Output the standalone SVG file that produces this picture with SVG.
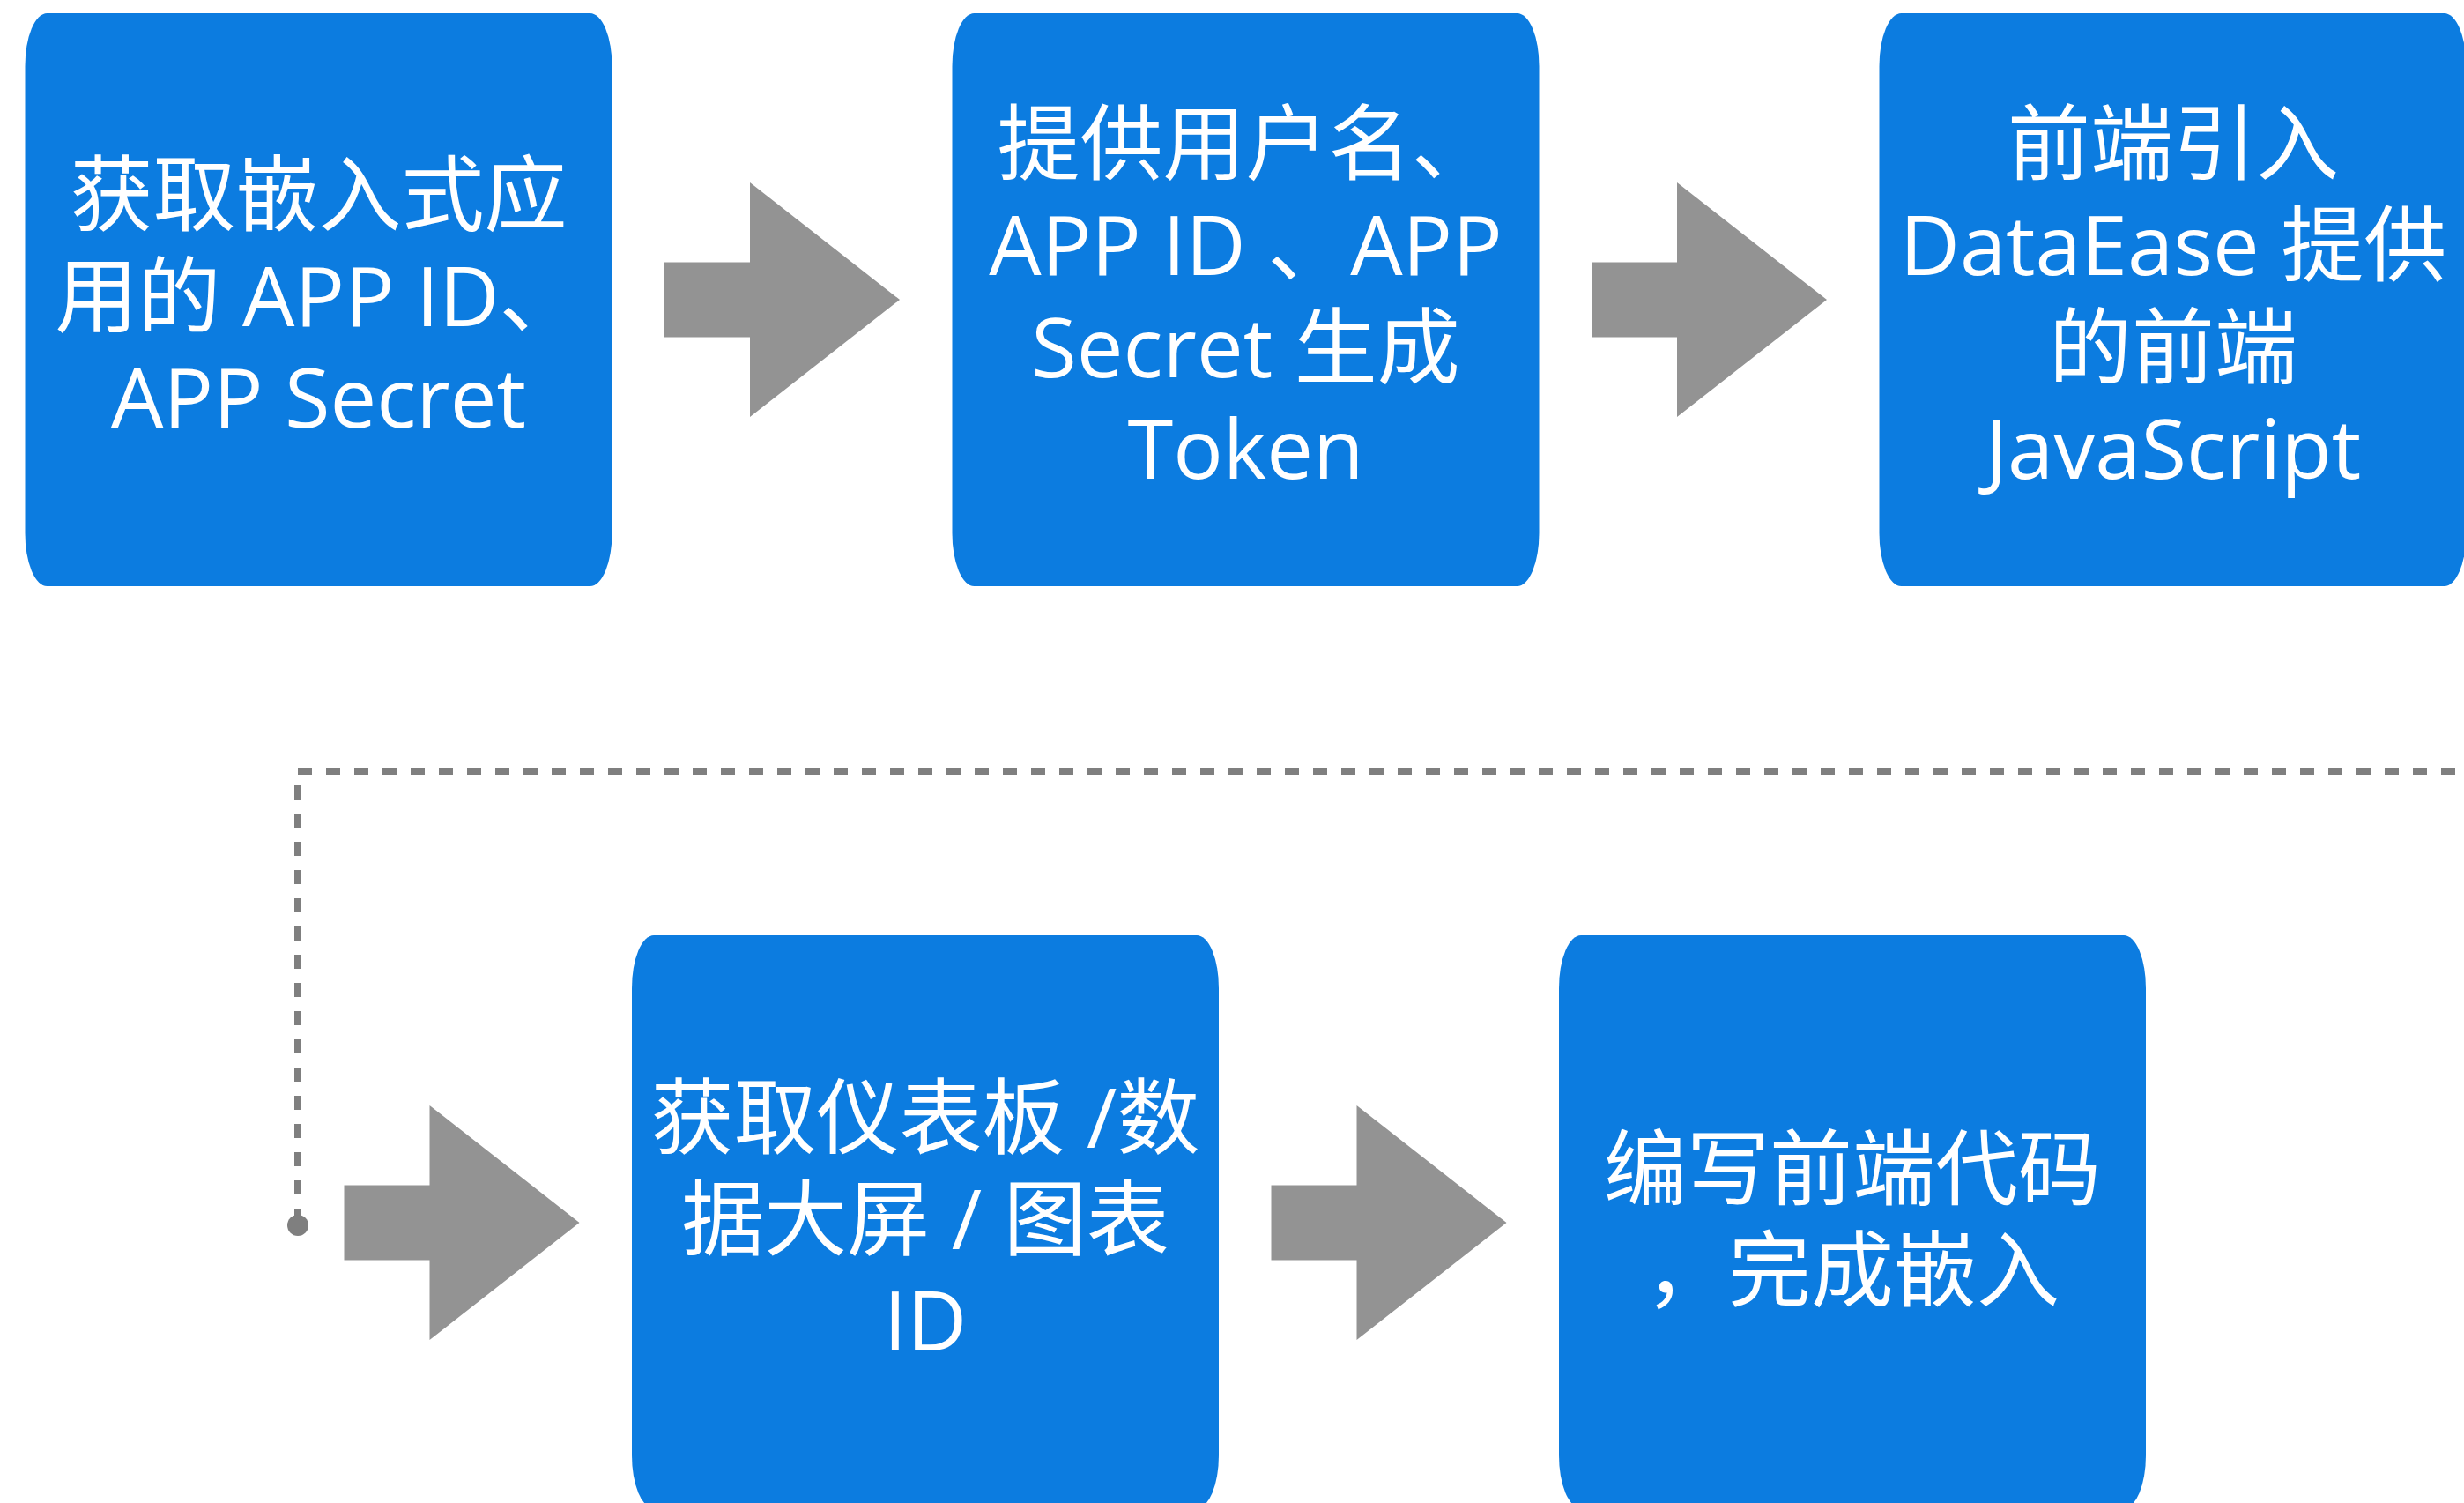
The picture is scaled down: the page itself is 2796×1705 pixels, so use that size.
<svg xmlns="http://www.w3.org/2000/svg" width="2796" height="1705" viewBox="0 0 2796 1705">
<style>
.box{fill:#0c7ce0;}
.t{font-family:"Open Sans","Noto Sans CJK SC",sans-serif;font-size:94px;fill:#ffffff;text-anchor:middle;}
.arr{fill:#939393;}
.dash{fill:none;stroke:#7f7f7f;stroke-width:8;stroke-dasharray:16 16;}
</style>
<defs>
<path id="blockArrow" d="M0,-42.5 H97 V-133 L267,0 L97,133 V42.5 H0 Z"/>
</defs>
<rect width="2796" height="1705" fill="#ffffff"/>
<g id="connectors">
<use href="#blockArrow" class="arr" transform="translate(754,340)"/>
<use href="#blockArrow" class="arr" transform="translate(1806,340)"/>
<use href="#blockArrow" class="arr" transform="translate(390.5,1387)"/>
<use href="#blockArrow" class="arr" transform="translate(1442.5,1387)"/>
<path class="dash" d="M338,1387 V875 H2810"/>
<circle cx="338" cy="1390" r="12" fill="#7f7f7f"/>
</g>
<g id="node1">
<rect class="box" x="28.5" y="15" width="666" height="650" rx="25" ry="60"/>
<text class="t"><tspan x="361.5" y="255">获取嵌入式应</tspan><tspan x="361.5" dy="115">用的 APP ID、</tspan><tspan x="361.5" dy="115">APP Secret</tspan></text>
</g>
<g id="node2">
<rect class="box" x="1080.5" y="15" width="666" height="650" rx="25" ry="60"/>
<text class="t"><tspan x="1413.5" y="197">提供用户名、</tspan><tspan x="1413.5" dy="115">APP ID 、APP</tspan><tspan x="1413.5" dy="116">Secret 生成</tspan><tspan x="1413.5" dy="115">Token</tspan></text>
</g>
<g id="node3">
<rect class="box" x="2132.5" y="15" width="666" height="650" rx="25" ry="60"/>
<text class="t"><tspan x="2466" y="197">前端引入</tspan><tspan x="2466" dy="115">DataEase 提供</tspan><tspan x="2466" dy="116">的前端</tspan><tspan x="2466" dy="115">JavaScript</tspan></text>
</g>
<g id="node4">
<rect class="box" x="717" y="1061" width="666" height="650" rx="25" ry="60"/>
<text class="t"><tspan x="1050" y="1302">获取仪表板 /数</tspan><tspan x="1050" dy="115">据大屏 / 图表</tspan><tspan x="1050" dy="115">ID</tspan></text>
</g>
<g id="node5">
<rect class="box" x="1769" y="1061" width="666" height="650" rx="25" ry="60"/>
<text class="t"><tspan x="2102" y="1360">编写前端代码</tspan><tspan x="2102" dy="115">，完成嵌入</tspan></text>
</g>
</svg>
